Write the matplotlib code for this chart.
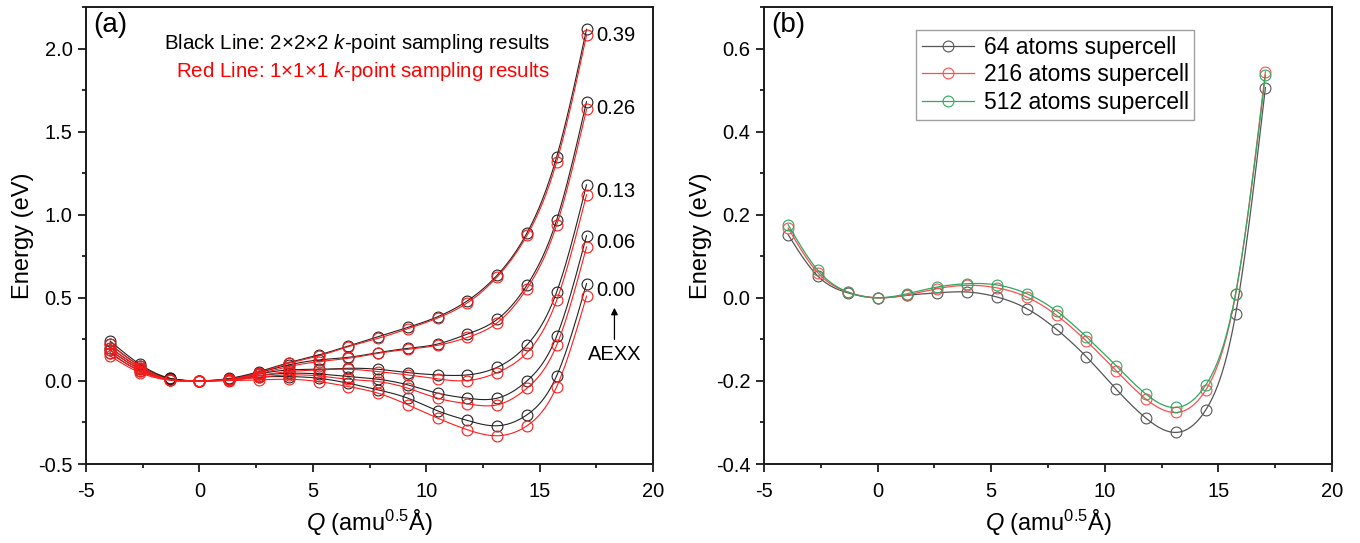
import numpy as np
import matplotlib
matplotlib.use("Agg")
import matplotlib.pyplot as plt
from matplotlib.ticker import MultipleLocator, FormatStrFormatter

plt.rcParams["font.family"] = ["Liberation Sans", "DejaVu Sans"]
plt.rcParams["mathtext.fontset"] = "custom"
plt.rcParams["mathtext.rm"] = "Liberation Sans"
plt.rcParams["mathtext.it"] = "Liberation Sans:italic"
plt.rcParams["axes.unicode_minus"] = False

# Configuration coordinate Q (amu^0.5 Å)
q = np.arange(-3, 14) * 1.313

# Panel (a): energy curves for several AEXX values
aexx_labels = ["0.39", "0.26", "0.13", "0.06", "0.00"]
e_k222 = [
    [0.240, 0.100, 0.016, 0, 0.015, 0.056, 0.110, 0.156, 0.210, 0.266, 0.322, 0.386, 0.482, 0.636, 0.890, 1.350, 2.116],
    [0.220, 0.090, 0.015, 0, 0.012, 0.050, 0.096, 0.126, 0.142, 0.170, 0.196, 0.222, 0.282, 0.370, 0.576, 0.970, 1.680],
    [0.200, 0.080, 0.014, 0, 0.010, 0.042, 0.066, 0.070, 0.076, 0.070, 0.050, 0.036, 0.036, 0.082, 0.216, 0.536, 1.180],
    [0.185, 0.070, 0.013, 0, 0.008, 0.032, 0.046, 0.042, 0.026, 0.010, -0.024, -0.074, -0.104, -0.104, 0.000, 0.270, 0.874],
    [0.170, 0.060, 0.012, 0, 0.006, 0.022, 0.026, 0.016, -0.014, -0.054, -0.104, -0.180, -0.238, -0.270, -0.204, 0.032, 0.586],
]
e_k111 = [
    [0.220, 0.090, 0.008, 0, 0.010, 0.050, 0.106, 0.150, 0.206, 0.256, 0.314, 0.378, 0.470, 0.626, 0.875, 1.320, 2.080],
    [0.200, 0.080, 0.008, 0, 0.008, 0.042, 0.086, 0.116, 0.136, 0.166, 0.190, 0.214, 0.262, 0.350, 0.556, 0.940, 1.634],
    [0.185, 0.070, 0.008, 0, 0.006, 0.032, 0.056, 0.066, 0.070, 0.056, 0.036, 0.012, 0.002, 0.050, 0.170, 0.486, 1.120],
    [0.165, 0.060, 0.006, 0, 0.004, 0.022, 0.036, 0.030, 0.010, -0.004, -0.044, -0.104, -0.138, -0.144, -0.044, 0.216, 0.806],
    [0.150, 0.050, 0.005, 0, 0.002, 0.006, 0.010, -0.004, -0.034, -0.074, -0.144, -0.224, -0.294, -0.330, -0.270, -0.034, 0.510],
]

# Panel (b): supercell size convergence
cell_labels = ["64 atoms supercell", "216 atoms supercell", "512 atoms supercell"]
e_64 = [0.152, 0.052, 0.012, 0, 0.006, 0.012, 0.014, 0.002, -0.026, -0.076, -0.142, -0.220, -0.290, -0.324, -0.270, -0.040, 0.506]
e_216 = [0.168, 0.060, 0.014, 0, 0.007, 0.022, 0.030, 0.024, 0.002, -0.042, -0.104, -0.176, -0.244, -0.276, -0.222, 0.008, 0.544]
e_512 = [0.176, 0.066, 0.014, 0, 0.010, 0.026, 0.034, 0.031, 0.010, -0.032, -0.094, -0.164, -0.232, -0.264, -0.210, 0.010, 0.536]
cell_colors = ["#555555", "#ff4d4d", "#2ea862"]


def natural_spline(x, y, n=400):
    """Natural cubic spline through (x, y), sampled on n points."""
    x = np.asarray(x, float)
    y = np.asarray(y, float)
    m = len(x)
    h = np.diff(x)
    A = np.zeros((m, m))
    r = np.zeros(m)
    A[0, 0] = A[-1, -1] = 1.0
    for i in range(1, m - 1):
        A[i, i - 1] = h[i - 1]
        A[i, i] = 2 * (h[i - 1] + h[i])
        A[i, i + 1] = h[i]
        r[i] = 3 * ((y[i + 1] - y[i]) / h[i] - (y[i] - y[i - 1]) / h[i - 1])
    c = np.linalg.solve(A, r)
    b = (y[1:] - y[:-1]) / h - h * (2 * c[:-1] + c[1:]) / 3
    d = (c[1:] - c[:-1]) / (3 * h)
    xs = np.linspace(x[0], x[-1], n)
    idx = np.clip(np.searchsorted(x, xs) - 1, 0, m - 2)
    t = xs - x[idx]
    ys = y[idx] + b[idx] * t + c[idx] * t ** 2 + d[idx] * t ** 3
    return xs, ys


def style_axes(ax):
    for s in ax.spines.values():
        s.set_linewidth(1.4)
        s.set_color("#1a1a1a")
    ax.tick_params(which="both", direction="out", top=False, right=False,
                   width=1.3, labelsize=14.5, color="#1a1a1a")
    ax.tick_params(which="major", length=5.8)
    ax.tick_params(which="minor", length=3)
    ax.tick_params(axis="x", which="major", pad=7)
    ax.tick_params(axis="y", which="major", pad=4)
    ax.xaxis.set_major_locator(MultipleLocator(5))
    ax.xaxis.set_minor_locator(MultipleLocator(2.5))
    ax.set_xlim(-5, 20)
    ax.set_xlabel(r"$\mathit{Q}$ (amu$^{0.5}$Å)", fontsize=17, labelpad=5)
    ax.set_ylabel("Energy (eV)", fontsize=17, labelpad=3)


W, H = 1360, 543
fig = plt.figure(figsize=(W / 100, H / 100), dpi=100)
ax_a = fig.add_axes([86 / W, (H - 464) / H, 567 / W, 457 / H])
ax_b = fig.add_axes([764 / W, (H - 464) / H, 568 / W, 457 / H])

mk = dict(marker="o", markersize=7.8, markerfacecolor="none", markeredgewidth=0.8)

# Panel (a)
for yb in e_k222:
    xs, ys = natural_spline(q, yb)
    ax_a.plot(xs, ys, color="#222222", lw=0.8)
    ax_a.plot(q, yb, ls="none", markeredgecolor="#222222", **mk)
for yr in e_k111:
    xs, ys = natural_spline(q, yr)
    ax_a.plot(xs, ys, color="#ff1a1a", lw=0.8)
    ax_a.plot(q, yr, ls="none", markeredgecolor="#ff1a1a", **mk)
for lab, yb in zip(aexx_labels, e_k222):
    ax_a.text(q[-1] + 0.42, yb[-1] - 0.04, lab, fontsize=14.5, va="center", ha="left")

style_axes(ax_a)
ax_a.set_ylim(-0.5, 2.25)
ax_a.yaxis.set_major_locator(MultipleLocator(0.5))
ax_a.yaxis.set_minor_locator(MultipleLocator(0.25))
ax_a.yaxis.set_major_formatter(FormatStrFormatter("%.1f"))
ax_a.text(0.012, 0.99, "(a)", transform=ax_a.transAxes, fontsize=20, va="top", ha="left")
ax_a.text(15.46, 2.03, r"Black Line: 2×2×2 $\mathit{k}$-point sampling results",
          fontsize=14.8, ha="right", va="center", color="black")
ax_a.text(15.46, 1.863, r"Red Line: 1×1×1 $\mathit{k}$-point sampling results",
          fontsize=14.8, ha="right", va="center", color="#ff0000")
ax_a.annotate("", xy=(18.3, 0.44), xytext=(18.3, 0.25),
              arrowprops=dict(arrowstyle="-|>", color="black", lw=0.9,
                              mutation_scale=10, shrinkA=0, shrinkB=0))
ax_a.text(18.3, 0.16, "AEXX", fontsize=14.5, ha="center", va="center")

# Panel (b)
for lab, ys_pts, col in zip(cell_labels, [e_64, e_216, e_512], cell_colors):
    xs, ys = natural_spline(q, ys_pts)
    ax_b.plot(xs, ys, color=col, lw=0.9)
    ax_b.plot(q, ys_pts, ls="none", markeredgecolor=col, **mk)
    ax_b.plot([], [], color=col, lw=0.9, label=lab, markeredgecolor=col, **mk)

style_axes(ax_b)
ax_b.set_ylim(-0.4, 0.7)
ax_b.yaxis.set_major_locator(MultipleLocator(0.2))
ax_b.yaxis.set_minor_locator(MultipleLocator(0.1))
ax_b.yaxis.set_major_formatter(FormatStrFormatter("%.1f"))
ax_b.text(0.012, 0.99, "(b)", transform=ax_b.transAxes, fontsize=20, va="top", ha="left")
leg = ax_b.legend(loc="upper left", bbox_to_anchor=((916 - 764) / 568, (464 - 30) / 457),
                  borderaxespad=0, fontsize=16.5, frameon=True, fancybox=False,
                  edgecolor="#888888", handlelength=2.3, handletextpad=0.4,
                  labelspacing=0.2, borderpad=0.25)
leg.get_frame().set_linewidth(1.0)

fig.savefig("out.png", dpi=100)
